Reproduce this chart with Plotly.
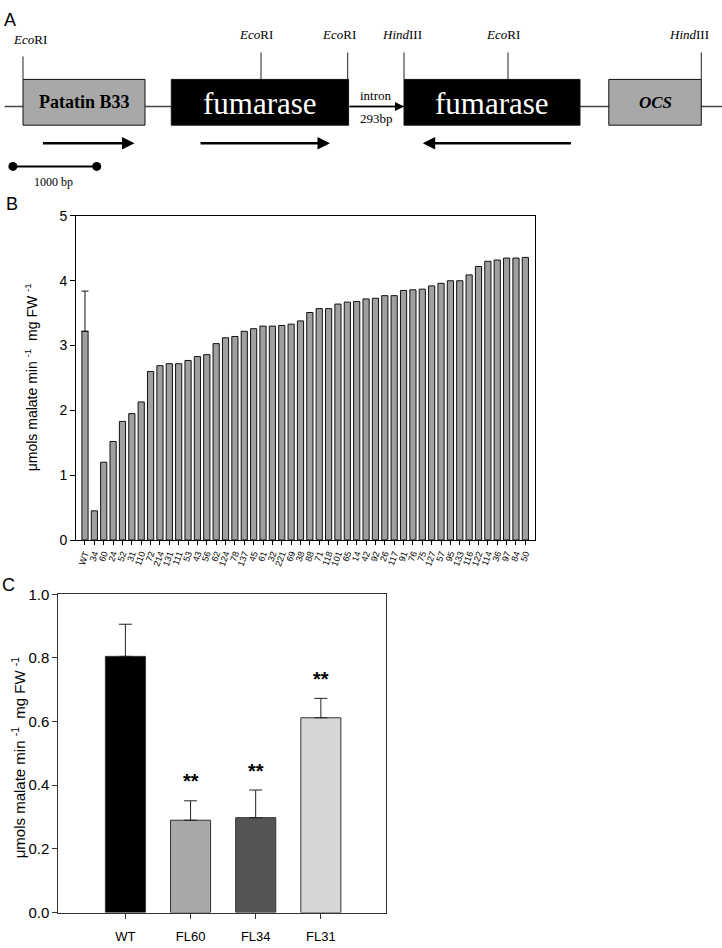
import plotly.graph_objects as go

W, H = 722, 948

# ---------------- Panel B data ----------------
lines_B = ["WT", "34", "60", "24", "52", "31", "110", "72", "214", "131", "111", "53",
           "43", "56", "62", "124", "78", "137", "45", "61", "32", "221", "69", "38",
           "88", "71", "118", "101", "65", "14", "42", "92", "26", "117", "91", "76",
           "75", "127", "57", "95", "133", "116", "122", "114", "36", "97", "84", "50"]
activity_B = [3.22, 0.45, 1.20, 1.52, 1.83, 1.95, 2.13, 2.60, 2.69, 2.72, 2.72, 2.77,
              2.83, 2.86, 3.03, 3.12, 3.14, 3.22, 3.26, 3.30, 3.30, 3.31, 3.33, 3.38,
              3.51, 3.57, 3.57, 3.64, 3.67, 3.68, 3.72, 3.73, 3.77, 3.77, 3.85, 3.86,
              3.87, 3.92, 3.96, 4.00, 4.00, 4.09, 4.22, 4.30, 4.32, 4.35, 4.35, 4.36]
wt_err_B = [0.62]
yticks_B = [0, 1, 2, 3, 4, 5]

# ---------------- Panel C data ----------------
lines_C = ["WT", "FL60", "FL34", "FL31"]
activity_C = [0.805, 0.290, 0.298, 0.612]
err_C = [0.101, 0.061, 0.087, 0.061]
sig_C = ["", "**", "**", "**"]
colors_C = ["#000000", "#a8a8a8", "#555555", "#d6d6d6"]
yticks_C = [0.0, 0.2, 0.4, 0.6, 0.8, 1.0]

# ---------------- Panel A construct (diagram units = px) ----------------
elements_A = ["Patatin B33", "fumarase", "fumarase", "OCS"]
sites_A = ["<i>Eco</i>RI", "<i>Eco</i>RI", "<i>Eco</i>RI", "<i>Hind</i>III", "<i>Eco</i>RI", "<i>Hind</i>III"]


def px(x):
    return x / W


def py(y):
    return 1 - y / H


SANS = "Liberation Sans, Arial, sans-serif"
SERIF = "Liberation Serif, Times New Roman, serif"

fig = go.Figure()

# ---- Panel B bars ----
fig.add_trace(go.Bar(
    x=lines_B[1:], y=activity_B[1:], xaxis="x", yaxis="y", width=0.66,
    marker=dict(color="#a0a0a0", line=dict(color="#111111", width=1)),
    showlegend=False, hoverinfo="skip"))
fig.add_trace(go.Bar(
    x=lines_B[:1], y=activity_B[:1], xaxis="x", yaxis="y", width=0.66,
    marker=dict(color="#a0a0a0", line=dict(color="#111111", width=1)),
    error_y=dict(type="data", array=wt_err_B, arrayminus=[0], symmetric=False,
                 color="#111111", thickness=1, width=3.5),
    showlegend=False, hoverinfo="skip"))

# ---- Panel C bars ----
fig.add_trace(go.Bar(
    x=lines_C, y=activity_C, xaxis="x2", yaxis="y2", width=0.615,
    marker=dict(color=colors_C, line=dict(color="#333333", width=1)),
    error_y=dict(type="data", array=err_C, arrayminus=[0] * len(err_C), symmetric=False,
                 color="#222222", thickness=1, width=6.5),
    showlegend=False, hoverinfo="skip"))

# ---- Panel A scale bar (uses x3/y3 diagram axes) ----
fig.add_trace(go.Scatter(
    x=[12.9, 96.7], y=[160.3, 160.3], xaxis="x3", yaxis="y3", mode="lines+markers",
    line=dict(color="black", width=2), marker=dict(color="black", size=9),
    showlegend=False, hoverinfo="skip"))

shapes = []
annotations = []

# main line
shapes.append(dict(type="line", xref="x3", yref="y3", x0=4.6, x1=722, y0=99.3, y1=99.3,
                   line=dict(color="#444444", width=1.5)))
# boxes
box_specs = [
    (23, 145, "#a8a8a8"),
    (171.3, 348.6, "#000000"),
    (404, 580, "#000000"),
    (608.8, 701.3, "#a8a8a8"),
]
for x0, x1, col in box_specs:
    shapes.append(dict(type="rect", xref="x3", yref="y3", x0=x0, x1=x1, y0=71.7, y1=118.3,
                       fillcolor=col, line=dict(color="#111111", width=1)))
# restriction sites
site_x = [23, 261, 347.7, 404, 508, 701.3]
site_top = [48.3, 44.3, 44.3, 44.3, 44.3, 44.3]
site_lab_x = [30, 255.6, 339.4, 402, 502.9, 689]
site_lab_y = [30.7, 26, 26, 26, 26, 26]
for sx, st, lx, ly, name in zip(site_x, site_top, site_lab_x, site_lab_y, sites_A):
    shapes.append(dict(type="line", xref="x3", yref="y3", x0=sx, x1=sx, y0=st, y1=71.7,
                       line=dict(color="#222222", width=1)))
    annotations.append(dict(xref="x3", yref="y3", x=lx, y=ly, text=name, showarrow=False,
                            xanchor="center", yanchor="middle",
                            font=dict(family=SERIF, size=13, color="black")))

# element labels
annotations.append(dict(xref="x3", yref="y3", x=84, y=95, text="<b>Patatin B33</b>", showarrow=False,
                        xanchor="center", yanchor="middle",
                        font=dict(family=SERIF, size=18, color="black")))
for cx in [260, 492]:
    annotations.append(dict(xref="x3", yref="y3", x=cx, y=96, text=elements_A[1], showarrow=False,
                            xanchor="center", yanchor="middle",
                            font=dict(family=SERIF, size=31, color="white")))
annotations.append(dict(xref="x3", yref="y3", x=655, y=95, text="<b><i>OCS</i></b>", showarrow=False,
                        xanchor="center", yanchor="middle",
                        font=dict(family=SERIF, size=17, color="black")))
annotations.append(dict(xref="x3", yref="y3", x=376, y=88, text="intron", showarrow=False,
                        xanchor="center", yanchor="middle",
                        font=dict(family=SERIF, size=13, color="black")))
annotations.append(dict(xref="x3", yref="y3", x=376, y=111, text="293bp", showarrow=False,
                        xanchor="center", yanchor="middle",
                        font=dict(family=SERIF, size=13, color="black")))
annotations.append(dict(xref="x3", yref="y3", x=53, y=176, text="1000 bp", showarrow=False,
                        xanchor="center", yanchor="middle",
                        font=dict(family=SERIF, size=12, color="black")))
# intron arrow
annotations.append(dict(xref="x3", yref="y3", axref="x3", ayref="y3", x=404, y=99.3, ax=348.6, ay=99.3,
                        text="", showarrow=True, arrowhead=2, arrowsize=1.2, arrowwidth=1.5,
                        arrowcolor="black", standoff=0))
# direction arrows
for x_tail, x_head in [(41.4, 134.5), (199, 330), (572.4, 422.7)]:
    annotations.append(dict(xref="x3", yref="y3", axref="x3", ayref="y3", x=x_head, y=136.7,
                            ax=x_tail, ay=136.7, text="", showarrow=True, arrowhead=2,
                            arrowsize=1, arrowwidth=2.5, arrowcolor="black", standoff=0))

# panel letters
for letter, lx, ly in [("A", 10, 11), ("B", 12, 199), ("C", 8, 587)]:
    annotations.append(dict(xref="paper", yref="paper", x=px(lx), y=py(ly), text=letter,
                            xanchor="center", yanchor="middle",
                            showarrow=False, font=dict(family=SANS, size=18, color="black")))

ytitle = "μmols malate min <sup>-1</sup>  mg FW <sup>-1</sup>"
annotations.append(dict(xref="paper", yref="paper", x=px(31), y=py(375), text=ytitle,
                        xanchor="center", yanchor="middle",
                        textangle=-90, showarrow=False, font=dict(family=SANS, size=14, color="black")))
annotations.append(dict(xref="paper", yref="paper", x=px(18), y=py(762), text=ytitle,
                        xanchor="center", yanchor="middle",
                        textangle=-90, showarrow=False, font=dict(family=SANS, size=15, color="black")))

# significance asterisks
for lab, v, e, s in zip(lines_C, activity_C, err_C, sig_C):
    if s:
        annotations.append(dict(xref="x2", yref="y2", x=lab, y=v + e + 0.02, yanchor="bottom",
                                xanchor="center",
                                text="<b>" + s + "</b>", showarrow=False,
                                font=dict(family=SANS, size=20, color="black")))

fig.update_layout(
    width=W, height=H,
    margin=dict(l=0, r=0, t=0, b=0),
    paper_bgcolor="white", plot_bgcolor="white",
    barmode="overlay", showlegend=False,
    shapes=shapes, annotations=annotations,
    xaxis=dict(domain=[px(76), px(535)], type="category", categoryorder="array",
               categoryarray=lines_B, range=[-0.96, 48.03],
               tickmode="linear", tick0=0, dtick=1,
               showline=True, linecolor="black", linewidth=1, mirror=True,
               ticks="outside", ticklen=4, tickwidth=1, tickcolor="black",
               tickangle=-70, tickfont=dict(family=SANS, size=9, color="black"),
               showgrid=False, zeroline=False, fixedrange=True),
    yaxis=dict(domain=[py(540.7), py(210.7)], range=[0, 5], tickvals=yticks_B,
               showline=True, linecolor="black", linewidth=1, mirror=True,
               ticks="outside", ticklen=5, tickwidth=1, tickcolor="black",
               tickfont=dict(family=SANS, size=14, color="black"),
               showgrid=False, zeroline=False, fixedrange=True),
    xaxis2=dict(domain=[px(58.3), px(386)], type="category", categoryorder="array",
                categoryarray=lines_C, range=[-1.03, 4.0], anchor="y2",
                showline=True, linecolor="#333333", linewidth=1, mirror=True,
                ticks="outside", ticklen=5, tickwidth=1, tickcolor="#333333",
                tickfont=dict(family=SANS, size=13, color="black"), ticklabelstandoff=7,
                showgrid=False, zeroline=False, fixedrange=True),
    yaxis2=dict(domain=[py(920), py(596)], range=[0, 1], tickvals=yticks_C, tickformat=".1f",
                anchor="x2", showline=True, linecolor="#333333", linewidth=1, mirror=True,
                ticks="outside", ticklen=5, tickwidth=1, tickcolor="#333333",
                tickfont=dict(family=SANS, size=15, color="black"),
                showgrid=False, zeroline=False, fixedrange=True),
    xaxis3=dict(domain=[0, 1], range=[0, W], visible=False, anchor="y3", fixedrange=True),
    yaxis3=dict(domain=[py(190), 1], range=[190, 0], visible=False, anchor="x3", fixedrange=True),
)

fig.write_html("out.html", config={"displayModeBar": False},
               post_script="document.body.style.margin='0';document.body.style.overflow='hidden';")
